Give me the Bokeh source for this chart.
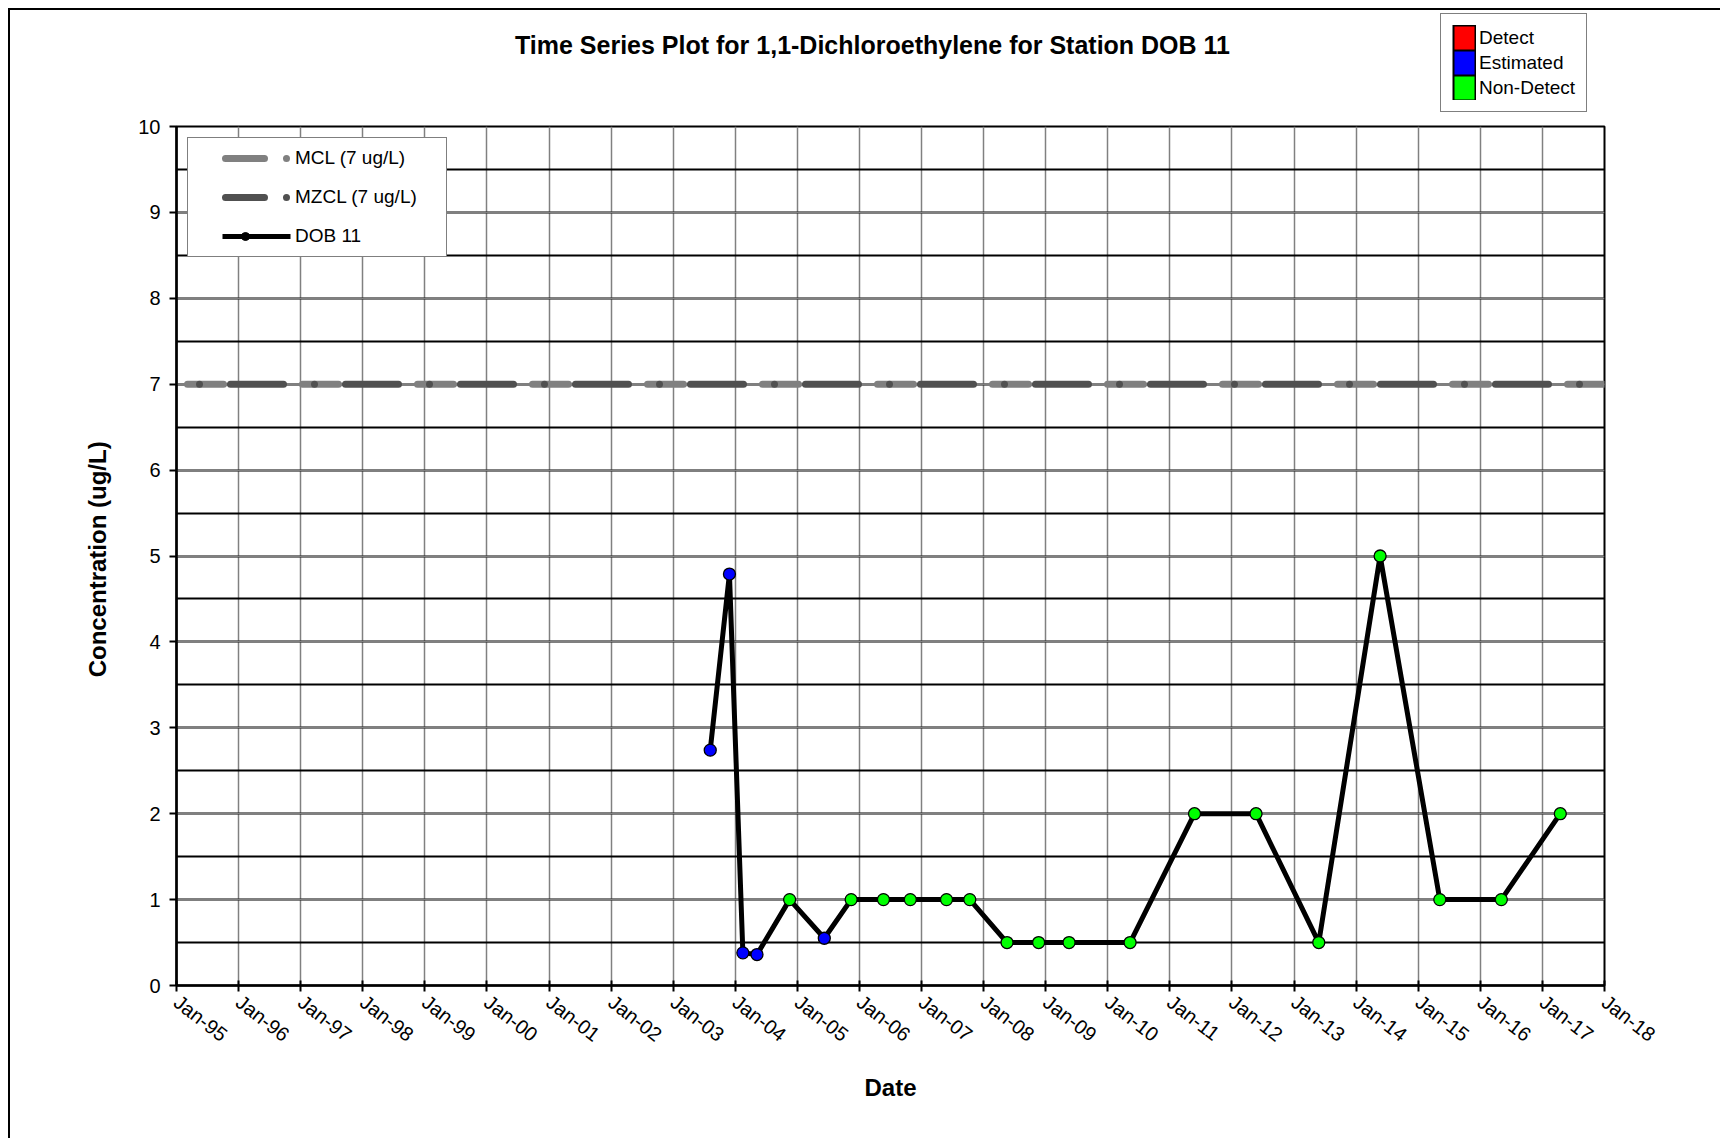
import pandas as pd
from bokeh.plotting import figure
from bokeh.models import (Range1d, FixedTicker, SingleIntervalTicker, DatetimeTickFormatter,
                          Legend, LegendItem, Label, ColumnDataSource)
from bokeh.embed import file_html
from bokeh.resources import INLINE

# ---------------- data ----------------
sample_dates = ["2003-08-07", "2003-11-28", "2004-02-15", "2004-05-08", "2004-11-16",
                "2005-06-08", "2005-11-13", "2006-05-22", "2006-10-27", "2007-05-28",
                "2007-10-12", "2008-05-18", "2008-11-20", "2009-05-18", "2010-05-12",
                "2011-05-26", "2012-05-22", "2013-05-26", "2014-05-22", "2015-05-08",
                "2016-05-04", "2017-04-16"]
concentrations = [2.74, 4.79, 0.38, 0.36, 1.0,
                  0.55, 1.0, 1.0, 1.0, 1.0,
                  1.0, 0.5, 0.5, 0.5, 0.5,
                  2.0, 2.0, 0.5, 5.0, 1.0,
                  1.0, 2.0]
qualifiers = ["Estimated", "Estimated", "Estimated", "Estimated", "Non-Detect",
              "Estimated", "Non-Detect", "Non-Detect", "Non-Detect", "Non-Detect",
              "Non-Detect", "Non-Detect", "Non-Detect", "Non-Detect", "Non-Detect",
              "Non-Detect", "Non-Detect", "Non-Detect", "Non-Detect", "Non-Detect",
              "Non-Detect", "Non-Detect"]
status_labels = ["Detect", "Estimated", "Non-Detect"]
status_colors = ["#FF0000", "#0000FF", "#00FF00"]
mcl_value = 7
mzcl_value = 7
mcl_label = "MCL (7 ug/L)"
mzcl_label = "MZCL (7 ug/L)"
station = "DOB 11"
axis_start = "1995-01-01"
axis_end = "2018-01-01"
tick_years = list(range(1995, 2019))
y_min, y_max = 0, 10
title_text = "Time Series Plot for 1,1-Dichloroethylene for Station DOB 11"
x_title = "Date"
y_title = "Concentration  (ug/L)"

# ---------------- main figure ----------------
FONT = "Liberation Sans"
NAN = float("nan")
x0 = pd.Timestamp(axis_start)
x1 = pd.Timestamp(axis_end)

p = figure(x_axis_type="datetime", x_range=Range1d(x0, x1), y_range=Range1d(y_min, y_max),
           width=1712, height=1130,
           min_border_left=166, min_border_right=118, min_border_top=116, min_border_bottom=155,
           output_backend="svg", toolbar_location=None, title=None,
           background_fill_color="white", border_fill_color="white")
p.margin = (8, 0, 0, 8)
p.styles = {"border-left": "2px solid black", "border-top": "2px solid black"}
p.outline_line_color = "black"
p.outline_line_width = 2

# axes
tick_ms = [pd.Timestamp(f"{y}-01-01").value // 10**6 for y in tick_years]
xt = FixedTicker(ticks=tick_ms)
p.xaxis.ticker = xt
p.xgrid.ticker = xt
fmt = "%b-%y"
p.xaxis.formatter = DatetimeTickFormatter(
    microseconds=fmt, milliseconds=fmt, seconds=fmt, minsec=fmt, minutes=fmt,
    hourmin=fmt, hours=fmt, days=fmt, months=fmt, years=fmt, strip_leading_zeros=False)
yt = SingleIntervalTicker(interval=1, num_minor_ticks=2)
p.yaxis.ticker = yt
p.ygrid.ticker = yt

for ax in (p.xaxis, p.yaxis):
    ax.axis_line_color = "black"
    ax.axis_line_width = 2.5
    ax.major_tick_line_color = "black"
    ax.major_tick_line_width = 2
    ax.minor_tick_line_color = None
    ax.major_label_text_font = FONT
    ax.major_label_text_font_size = "20px"
    ax.major_label_text_color = "black"
    ax.axis_label_text_font = FONT
    ax.axis_label_text_font_style = "bold"
    ax.axis_label_text_font_size = "24px"
    ax.axis_label_text_color = "black"

p.xaxis.axis_label = x_title
p.yaxis.axis_label = y_title
p.xaxis.major_label_orientation = -0.66
p.xaxis.major_tick_in = 5
p.xaxis.major_tick_out = 6
p.xaxis.major_label_standoff = 8
p.xaxis.axis_label_standoff = 17
p.yaxis.major_tick_in = 0
p.yaxis.major_tick_out = 7
p.yaxis.major_label_standoff = 9
p.yaxis.axis_label_standoff = 24

# grids
p.xgrid.grid_line_color = "#808080"
p.xgrid.grid_line_width = 1.5
p.ygrid.grid_line_color = "#808080"
p.ygrid.grid_line_width = 1.5
p.ygrid.minor_grid_line_color = "black"
p.ygrid.minor_grid_line_width = 2

# ---------------- regulatory lines ----------------
line_x = [x0, x1]
p.line(line_x, [mcl_value, mcl_value], line_color="#808080", line_width=1.5)
p.line(line_x, [mcl_value, mcl_value], line_color="#808080", line_width=7,
       line_dash="36 79", line_dash_offset=104, line_cap="round")
p.line(line_x, [mzcl_value, mzcl_value], line_color="#505050", line_width=7,
       line_dash="53 31 0 31", line_dash_offset=61, line_cap="round")

# ---------------- data series ----------------
dates = pd.to_datetime(sample_dates)
color_map = dict(zip(status_labels, status_colors))
src = ColumnDataSource(dict(x=dates, y=concentrations,
                            c=[color_map[q] for q in qualifiers]))
p.line("x", "y", source=src, line_color="black", line_width=5)
p.scatter("x", "y", source=src, size=12, fill_color="c", line_color="black", line_width=1.3)

# ---------------- inner legend ----------------
dummy = ColumnDataSource(dict(x=[NAN], y=[NAN]))
lg_mcl = p.line("x", "y", source=dummy, line_color="#808080", line_width=7,
                line_dash="39 22 0 200", line_dash_offset=233, line_cap="round")
lg_mzcl = p.line("x", "y", source=dummy, line_color="#505050", line_width=7,
                 line_dash="39 22 0 200", line_dash_offset=233, line_cap="round")
lg_dob_l = p.line("x", "y", source=dummy, line_color="black", line_width=5,
                  line_dash="68 200", line_dash_offset=243)
lg_dob_m = p.scatter("x", "y", source=dummy, size=7, fill_color="black", line_color="black")

leg1 = Legend(items=[LegendItem(label=mcl_label, renderers=[lg_mcl]),
                     LegendItem(label=mzcl_label, renderers=[lg_mzcl]),
                     LegendItem(label=station, renderers=[lg_dob_l, lg_dob_m])],
              location="top_left", margin=11, padding=9, spacing=17,
              glyph_width=96, glyph_height=20, label_height=20, label_width=142,
              label_standoff=2, label_text_font=FONT, label_text_font_size="19px",
              label_text_color="black", border_line_color="black", border_line_width=1.5,
              background_fill_color="white", background_fill_alpha=1)
p.add_layout(leg1)

# ---------------- header strip: title + status legend ----------------
# strip coordinates are page pixels (x to the right, y downwards)
strip_left, strip_right, strip_top, strip_bottom = 176, 1604, 12, 116
q = figure(frame_width=strip_right - strip_left, frame_height=strip_bottom - strip_top,
           min_border=0, toolbar_location=None, output_backend="svg", title=None,
           x_range=Range1d(strip_left, strip_right), y_range=Range1d(strip_bottom, strip_top),
           background_fill_alpha=0, border_fill_alpha=0)
q.axis.visible = False
q.grid.visible = False
q.outline_line_color = None
q.styles = {"position": "absolute", "left": f"{strip_left}px", "top": f"{strip_top}px"}

q.add_layout(Label(x=872, y=44, text=title_text, text_font=FONT, text_font_style="bold",
                   text_font_size="25px", text_align="center", text_baseline="middle",
                   text_color="black"))

# colour swatches: black outline bar with the status colour inset
dq = ColumnDataSource(dict(x=[NAN], y=[NAN]))
sw_items = []
for lab, c in zip(status_labels, status_colors):
    edge = q.line("x", "y", source=dq, line_color="black", line_width=27, line_cap="butt")
    fill = q.line("x", "y", source=dq, line_color=c, line_width=23, line_cap="butt",
                  line_dash="20 100", line_dash_offset=118)
    sw_items.append(LegendItem(label=lab, renderers=[edge, fill]))
leg2 = Legend(items=sw_items,
              location=(1440 - strip_left, strip_bottom - 112), margin=0, padding=11, spacing=0,
              glyph_width=24, glyph_height=25, label_height=25,
              label_standoff=3, label_text_font=FONT, label_text_font_size="19px",
              label_text_color="black", border_line_color="black", border_line_width=1.5,
              background_fill_color="white", background_fill_alpha=1)
q.add_layout(leg2)

open("out.html", "w").write(file_html([p, q], INLINE))
